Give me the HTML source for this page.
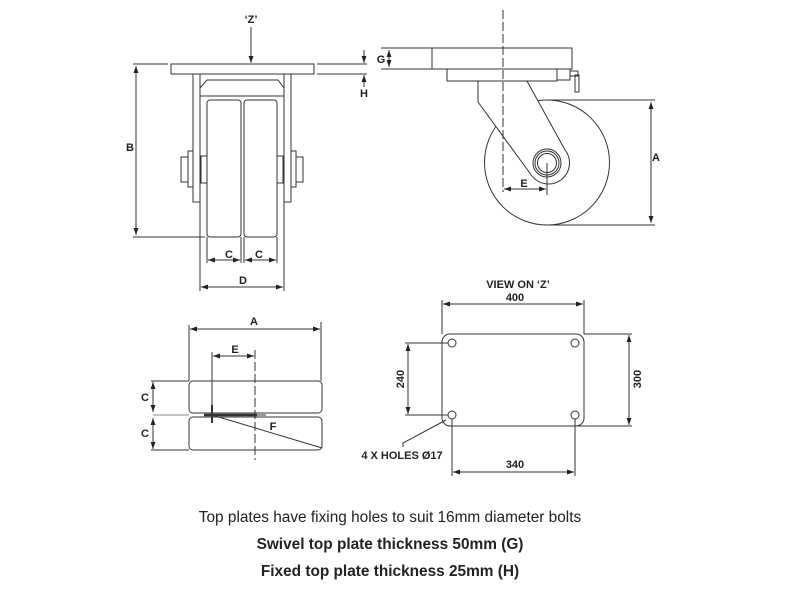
<!DOCTYPE html>
<html><head><meta charset="utf-8"><style>
html,body{margin:0;padding:0;background:#fff;}
svg{display:block;}
text{font-family:"Liberation Sans",Arial,sans-serif;fill:#222;}
.l{font-size:11px;font-weight:bold;}
</style></head><body>
<svg width="800" height="600" viewBox="0 0 800 600" xmlns="http://www.w3.org/2000/svg">
<defs>
<marker id="a" viewBox="0 0 10 10" refX="10" refY="5" markerWidth="7" markerHeight="7" orient="auto-start-reverse"><path d="M0,1.5 L10,5 L0,8.5 z" fill="#222"/></marker>
</defs>
<g fill="none" stroke="#333" stroke-width="1">
<rect x="171" y="64" width="143" height="10" fill="#fff"/>
<rect x="193" y="74" width="7" height="128"/>
<rect x="284" y="74" width="7" height="128"/>
<path d="M200,88 L207,80 L278,80 L284,88"/>
<line x1="200" y1="74" x2="200" y2="96"/><line x1="284" y1="74" x2="284" y2="96"/>
<line x1="200" y1="96" x2="284" y2="96"/>
<rect x="207" y="100" width="34" height="137" rx="3"/>
<rect x="244" y="100" width="33" height="137" rx="3"/>
<rect x="181" y="157" width="7" height="25"/>
<rect x="188" y="151" width="5" height="36"/>
<rect x="201" y="156" width="6" height="27"/>
<rect x="296" y="157" width="7" height="25"/>
<rect x="291" y="151" width="5" height="36"/>
<rect x="277" y="156" width="6" height="27"/>
<line x1="133" y1="64" x2="168" y2="64"/>
<line x1="133" y1="237" x2="205" y2="237"/>
<line x1="136" y1="66" x2="136" y2="235" marker-start="url(#a)" marker-end="url(#a)"/>
<line x1="251" y1="27" x2="251" y2="63" marker-end="url(#a)"/>
<line x1="317" y1="64" x2="367" y2="64"/>
<line x1="317" y1="74" x2="367" y2="74"/>
<line x1="364" y1="50" x2="364" y2="63" marker-end="url(#a)"/>
<line x1="364" y1="87" x2="364" y2="75" marker-end="url(#a)"/>
<line x1="200" y1="202" x2="200" y2="291"/>
<line x1="284" y1="202" x2="284" y2="291"/>
<line x1="207" y1="237" x2="207" y2="263"/>
<line x1="241" y1="237" x2="241" y2="263"/>
<line x1="244" y1="237" x2="244" y2="263"/>
<line x1="277" y1="237" x2="277" y2="263"/>
<line x1="208" y1="260" x2="240" y2="260" marker-start="url(#a)" marker-end="url(#a)"/>
<line x1="245" y1="260" x2="276" y2="260" marker-start="url(#a)" marker-end="url(#a)"/>
<line x1="201" y1="287" x2="283" y2="287" marker-start="url(#a)" marker-end="url(#a)"/>

<circle cx="547" cy="162.5" r="62.5" fill="#fff"/>
<path d="M478,81 L478,102 L532,176 A20,20 0 0 0 565,150 L527,81" fill="#fff"/>
<circle cx="547" cy="163" r="14"/>
<circle cx="547" cy="163" r="12"/>
<circle cx="547" cy="163" r="9.5"/>
<rect x="432" y="48" width="140" height="21" fill="#fff"/>
<rect x="447" y="69" width="110" height="12" fill="#fff"/>
<rect x="557" y="69" width="13" height="11"/>
<rect x="570" y="71" width="8" height="5"/>
<rect x="575" y="75" width="4" height="17"/>
<line x1="503" y1="10" x2="503" y2="192" stroke-dasharray="9,3"/>
<line x1="381" y1="48" x2="432" y2="48"/>
<line x1="381" y1="69" x2="432" y2="69"/>
<line x1="389" y1="50" x2="389" y2="67" marker-start="url(#a)" marker-end="url(#a)"/>
<line x1="547" y1="100" x2="655" y2="100"/>
<line x1="547" y1="225" x2="655" y2="225"/>
<line x1="651" y1="102" x2="651" y2="223" marker-start="url(#a)" marker-end="url(#a)"/>
<line x1="547" y1="163" x2="547" y2="195"/>
<line x1="504" y1="189" x2="546" y2="189" marker-start="url(#a)" marker-end="url(#a)"/>

<rect x="189" y="381" width="133" height="32" rx="4"/>
<rect x="189" y="417" width="133" height="33" rx="4"/>
<line x1="153" y1="415" x2="189" y2="415" stroke="#888"/>
<line x1="204" y1="415" x2="257" y2="415" stroke-width="2.5"/>
<line x1="257" y1="415" x2="266" y2="415"/>
<line x1="212" y1="352" x2="212" y2="423" stroke-width="1"/>
<line x1="212" y1="405" x2="212" y2="423" stroke-width="2"/>
<line x1="212" y1="415" x2="322" y2="448"/>
<line x1="255" y1="350" x2="255" y2="460" stroke-dasharray="9,3"/>
<line x1="189" y1="325" x2="189" y2="381"/>
<line x1="321" y1="322" x2="321" y2="381"/>
<line x1="190" y1="329" x2="320" y2="329" marker-start="url(#a)" marker-end="url(#a)"/>
<line x1="213" y1="356" x2="254" y2="356" marker-start="url(#a)" marker-end="url(#a)"/>
<line x1="151" y1="381" x2="189" y2="381"/>
<line x1="151" y1="450" x2="189" y2="450"/>
<line x1="153" y1="382" x2="153" y2="412" marker-start="url(#a)" marker-end="url(#a)"/>
<line x1="153" y1="418" x2="153" y2="449" marker-start="url(#a)" marker-end="url(#a)"/>

<rect x="442" y="334" width="142" height="92" rx="8"/>
<circle cx="452" cy="343" r="4"/><circle cx="575" cy="343" r="4"/>
<circle cx="452" cy="415" r="4"/><circle cx="575" cy="415" r="4"/>
<line x1="442" y1="300" x2="442" y2="334"/>
<line x1="584" y1="300" x2="584" y2="334"/>
<line x1="443" y1="304" x2="583" y2="304" marker-start="url(#a)" marker-end="url(#a)"/>
<line x1="405" y1="343" x2="448" y2="343"/>
<line x1="405" y1="415" x2="448" y2="415"/>
<line x1="408" y1="344" x2="408" y2="414" marker-start="url(#a)" marker-end="url(#a)"/>
<line x1="584" y1="334" x2="632" y2="334"/>
<line x1="578" y1="426" x2="632" y2="426"/>
<line x1="629" y1="335" x2="629" y2="425" marker-start="url(#a)" marker-end="url(#a)"/>
<line x1="452" y1="419" x2="452" y2="476"/>
<line x1="575" y1="419" x2="575" y2="476"/>
<line x1="453" y1="472" x2="574" y2="472" marker-start="url(#a)" marker-end="url(#a)"/>
<path d="M446,420 L403,443 L403,447"/>
</g>
<g class="l">
<text x="251" y="23" text-anchor="middle" class="l">‘Z’</text>
<text x="130" y="151" text-anchor="middle" class="l">B</text>
<text x="229" y="258" text-anchor="middle" class="l">C</text>
<text x="259" y="258" text-anchor="middle" class="l">C</text>
<text x="243" y="284" text-anchor="middle" class="l">D</text>
<text x="364" y="97" text-anchor="middle" class="l">H</text>
<text x="381" y="63" text-anchor="middle" class="l">G</text>
<text x="656" y="161" text-anchor="middle" class="l">A</text>
<text x="524" y="187" text-anchor="middle" class="l">E</text>
<text x="254" y="325" text-anchor="middle" class="l">A</text>
<text x="235" y="353" text-anchor="middle" class="l">E</text>
<text x="145" y="401" text-anchor="middle" class="l">C</text>
<text x="145" y="437" text-anchor="middle" class="l">C</text>
<text x="273" y="430" text-anchor="middle" class="l">F</text>
<text x="518" y="288" text-anchor="middle" class="l">VIEW ON ‘Z’</text>
<text x="515" y="301" text-anchor="middle" class="l">400</text>
<text x="404" y="379" text-anchor="middle" class="l" transform="rotate(-90 404 379)">240</text>
<text x="641" y="379" text-anchor="middle" class="l" transform="rotate(-90 641 379)">300</text>
<text x="515" y="468" text-anchor="middle" class="l">340</text>
<text x="402" y="459" text-anchor="middle" class="l">4 X HOLES Ø17</text>
</g>
<text x="390" y="522" text-anchor="middle" style="font-size:15.4px">Top plates have fixing holes to suit 16mm diameter bolts</text>
<text x="390" y="549" text-anchor="middle" style="font-size:15.4px;font-weight:bold">Swivel top plate thickness 50mm (G)</text>
<text x="390" y="576" text-anchor="middle" style="font-size:15.4px;font-weight:bold">Fixed top plate thickness 25mm (H)</text>
</svg>
</body></html>
